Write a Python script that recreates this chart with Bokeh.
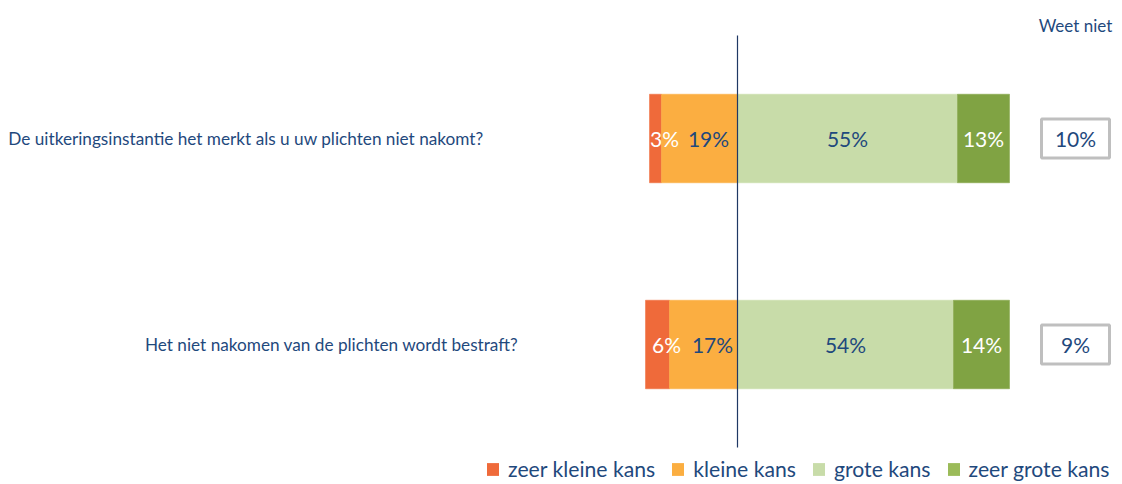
from bokeh.plotting import figure
from bokeh.models import Range1d, ColumnDataSource, Legend, LegendItem
from bokeh.core.properties import value
from bokeh.embed import file_html
from bokeh.resources import INLINE

categories = ["De uitkeringsinstantie het merkt als u uw plichten niet nakomt?",
              "Het niet nakomen van de plichten wordt bestraft?"]
zeer_kleine = [3, 6]
kleine = [19, 17]
grote = [55, 54]
zeer_grote = [13, 14]
weet_niet = [10, 9]
series_names = ["zeer kleine kans", "kleine kans", "grote kans", "zeer grote kans"]

# styles
colors = ["#EF6A3A", "#FBAE41", "#C8DCA9", "#80A343"]
legend_colors = ["#EF6A3A", "#FBAE41", "#C8DCA9", "#9BBB59"]
label_colors = ["white", "#1F497D", "#1F497D", "white"]
navy = "#1F497D"
FONT = "Lato"
cat_label_offset = [0, 35]

W, H = 1122, 484
px_per_unit = 4.0
center_px = 737
y0_px, y_step = 138, 206.0
p = figure(width=W, height=H, output_backend="svg", toolbar_location=None,
           x_range=Range1d(-center_px / px_per_unit, (W - center_px) / px_per_unit),
           y_range=Range1d((H - y0_px) / y_step, -y0_px / y_step),
           min_border=0, outline_line_color=None)
p.axis.visible = False
p.grid.visible = False
p.background_fill_color = "white"
p.border_fill_color = "white"

n = len(categories)
ys = list(range(n))
bar_h = 0.43

lefts = [[-(a + b) for a, b in zip(zeer_kleine, kleine)],
         [-b for b in kleine],
         [0] * n,
         grote]
rights = [[-b for b in kleine],
          [0] * n,
          grote,
          [g + z for g, z in zip(grote, zeer_grote)]]
vals = [zeer_kleine, kleine, grote, zeer_grote]

srcs = []
for i in range(4):
    src = ColumnDataSource(dict(y=ys, left=lefts[i], right=rights[i],
                                mid=[(l + r) / 2 for l, r in zip(lefts[i], rights[i])],
                                txt=[f"{v}%" for v in vals[i]]))
    srcs.append(src)
    p.hbar(y="y", left="left", right="right", height=bar_h, source=src,
           fill_color=colors[i], line_color=colors[i], line_width=0.5)
for i in range(4):
    p.text(x="mid", y="y", text="txt", source=srcs[i], text_align="center",
           text_baseline="middle", text_color=label_colors[i],
           text_font=value(FONT), text_font_size="21px",
           x_offset=9 if i < 2 else 0)

# center line
p.segment(x0=[0], y0=[-0.5], x1=[0], y1=[n - 0.5], line_color="#1F3864", line_width=1.2)

# weet niet boxes
wsrc = ColumnDataSource(dict(y=ys, x=[84.5] * n, txt=[f"{v}%" for v in weet_niet]))
p.rect(x="x", y="y", width=17, height=0.19, source=wsrc, fill_color="white",
       line_color="#BFBFBF", line_width=3)
p.text(x="x", y="y", text="txt", source=wsrc, text_align="center", text_baseline="middle",
       text_color=navy, text_font=value(FONT), text_font_size="21px")
p.text(x=[84.5], y=[-0.55], text=["Weet niet"], text_align="center", text_baseline="alphabetic",
       text_color=navy, text_font=value(FONT), text_font_size="17px")

# category labels
csrc = ColumnDataSource(dict(y=ys, txt=categories, off=cat_label_offset))
p.text(x=-63.5, y="y", text="txt", source=csrc, x_offset="off", text_align="right",
       text_baseline="middle", text_color=navy, text_font=value(FONT), text_font_size="17.2px")

# legend (zero-size swatch renderers)
legend_renderers = []
for i in range(4):
    d = p.hbar(y=[0], left=[0], right=[0], height=0, fill_color=legend_colors[i],
               line_alpha=0)
    legend_renderers.append(d)
legend = Legend(items=[LegendItem(label=series_names[i], renderers=[legend_renderers[i]])
                       for i in range(4)],
                orientation="horizontal", location=(485, 2),
                glyph_width=15, glyph_height=16, label_standoff=8, spacing=15,
                padding=0, margin=0, border_line_color=None, background_fill_alpha=0,
                label_text_font=FONT, label_text_font_size="21.2px", label_text_color=navy,
                label_height=16)
p.add_layout(legend)

open("out.html", "w").write(file_html(p, INLINE))
